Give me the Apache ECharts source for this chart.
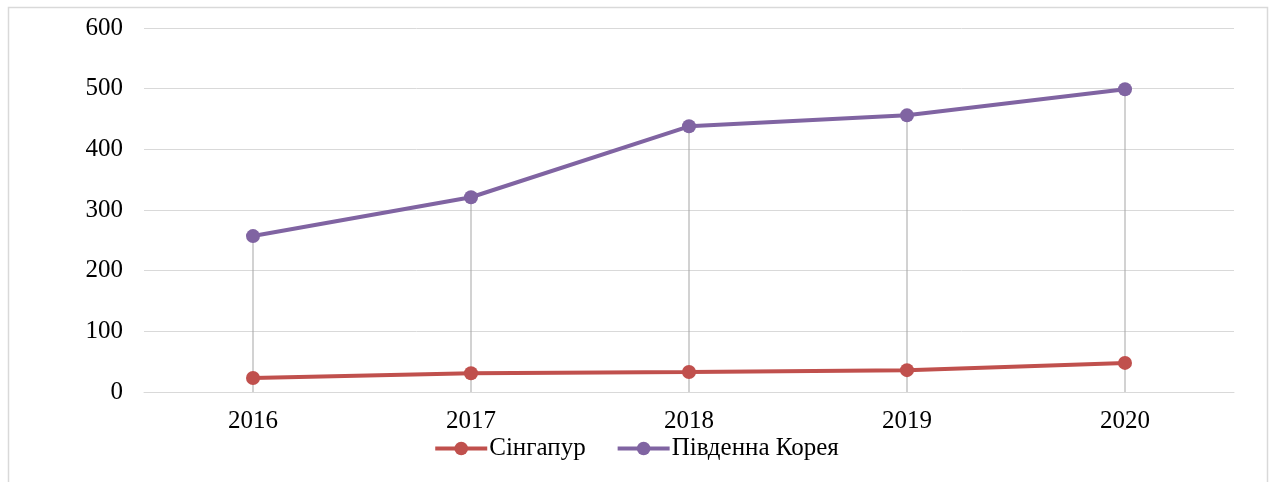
<!DOCTYPE html>
<html>
<head>
<meta charset="utf-8">
<script src="https://cdn.jsdelivr.net/npm/echarts@6/dist/echarts.min.js"></script>
<style>
  html, body { margin: 0; padding: 0; background: #fff; }
  #chart { width: 1272px; height: 482px; }
</style>
</head>
<body>
<div id="chart"></div>
<script>
// data
const years = ['2016', '2017', '2018', '2019', '2020'];
const singapore = [23, 31, 33, 36, 48];
const korea = [257, 321, 438, 456, 499];
const yTicks = { min: 0, max: 600, interval: 100 };

// drop lines go from the axis up to the higher of the two points
const dropTops = years.map((y, i) => Math.max(singapore[i], korea[i]));

const font = '"Liberation Serif", "Times New Roman", serif';
const chart = echarts.init(document.getElementById('chart'));

chart.setOption({
    animation: false,
    textStyle: { fontFamily: font },
    graphic: [{
        type: 'rect',
        shape: { x: 8.5, y: 7.5, width: 1259, height: 490 },
        style: { fill: 'none', stroke: '#d9d9d9', lineWidth: 1.5 },
        silent: true
    }],
    grid: { left: 144, right: 38, top: 28, bottom: 90 },
    legend: {
        data: ['Сінгапур', 'Південна Корея'],
        top: 431,
        left: 'center',
        itemWidth: 52,
        itemHeight: 17,
        itemGap: 30,
        lineStyle: { width: 4 },
        textStyle: { fontFamily: font, fontSize: 25, color: '#000', padding: [0, 0, 0, -3] }
    },
    xAxis: {
        type: 'category',
        data: years,
        boundaryGap: true,
        axisLine: { lineStyle: { color: '#d9d9d9', width: 1 } },
        axisTick: { show: false },
        axisLabel: { color: '#000', fontSize: 25, fontFamily: font, margin: 17 }
    },
    yAxis: {
        type: 'value',
        min: yTicks.min,
        max: yTicks.max,
        interval: yTicks.interval,
        axisLine: { show: false },
        axisTick: { show: false },
        splitLine: { lineStyle: { color: '#d9d9d9', width: 1 } },
        axisLabel: { color: '#000', fontSize: 25, fontFamily: font, margin: 21 }
    },
    series: [
        {
            name: 'drop',
            type: 'bar',
            data: dropTops,
            barWidth: 1,
            silent: true,
            itemStyle: { color: '#a6a6a6' },
            z: 1
        },
        {
            name: 'Сінгапур',
            type: 'line',
            data: singapore,
            symbol: 'circle',
            symbolSize: 14,
            lineStyle: { color: '#c0504d', width: 4 },
            itemStyle: { color: '#c0504d' },
            z: 3
        },
        {
            name: 'Південна Корея',
            type: 'line',
            data: korea,
            symbol: 'circle',
            symbolSize: 14,
            lineStyle: { color: '#8064a2', width: 4 },
            itemStyle: { color: '#8064a2' },
            z: 3
        }
    ]
});
</script>
</body>
</html>
